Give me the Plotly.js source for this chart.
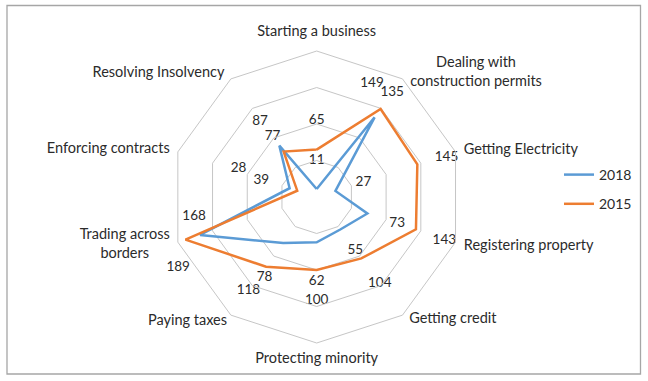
<!DOCTYPE html>
<html>
<head>
<meta charset="utf-8">
<script src="https://cdn.plot.ly/plotly-3.0.1.min.js"></script>
<style>html,body{margin:0;padding:0;background:#fff;}#chart{width:648px;height:381px;}</style>
</head>
<body>
<div id="chart"></div>
<script>
// ---- data ----
const categories = ['Starting a business','Dealing with construction permits','Getting Electricity','Registering property','Getting credit','Protecting minority','Paying taxes','Trading across borders','Enforcing contracts','Resolving Insolvency'];
const categoryLabels = ['Starting a business','Dealing with<br>construction permits','Getting Electricity','Registering property','Getting credit','Protecting minority','Paying taxes','Trading across<br>borders','Enforcing contracts','Resolving Insolvency'];
const seriesNames = ['2018','2015'];
const values2018 = [11,135,27,73,55,62,78,168,39,87];
const values2015 = [65,149,145,143,104,100,118,189,28,77];

// ---- label placement (style: radial / angular offsets) ----
const lblDr2018 = [39,41,40,43,35,54,53,2,40,42];
const lblDt2018 = [0,0,1,0,0,0,-3,9,-2,-1];
const lblDr2015 = [40,24,41,42,43,42,41,24,86,26];
const lblDt2015 = [0,-10,1,1,0,0,0,-9,2,0];
const catDr = [25,77,87,98,51,23,46,71,93,75];
const catDt = [0,16,5,-5,-12,0,10,4,-5,-16];

const colors = ['#5B9BD5','#ED7D31'];
const FONT = 'Lato, "Liberation Sans", sans-serif';
const TXT = '#2B2B2B';
const RMAX = 200;
const n = categories.length;
const step = 360 / n;
const W = 648, H = 381;

// polar domain (pixels): centre and radius
const dom = {x:[0.2634,0.7140], y:[0.0997,0.8661]};
const cxPx = (dom.x[0]+dom.x[1])/2*W, cyPx = (dom.y[0]+dom.y[1])/2*H;
const radPx = Math.min((dom.x[1]-dom.x[0])*W, (dom.y[1]-dom.y[0])*H)/2;
const unit = radPx/RMAX; // px per radial unit

function closed(a){ return a.concat([a[0]]); }

function lineTrace(vals, name, color){
  return {type:'scatterpolar', subplot:'polar', r:closed(vals), theta:closed(categories),
    mode:'lines', name:name, legendgroup:name, line:{color:color, width:2.5}, hoverinfo:'skip'};
}
// text on an overlay cartesian frame whose units equal radial units, origin at polar centre
function polarText(rs, ths, texts, size){
  return {type:'scatter', xaxis:'x', yaxis:'y', mode:'text', showlegend:false, cliponaxis:false,
    x: rs.map((r,i)=>r*Math.sin(ths[i]*Math.PI/180)),
    y: rs.map((r,i)=>r*Math.cos(ths[i]*Math.PI/180)),
    text: texts, textposition:'middle center',
    textfont:{family:FONT, size:size, color:TXT}, hoverinfo:'skip'};
}
function valueLabels(vals, dr, dt){
  return polarText(vals.map((v,i)=>v+dr[i]), vals.map((v,i)=>i*step+dt[i]), vals.map(String), 13.5);
}

const traces = [
  lineTrace(values2018, seriesNames[0], colors[0]),
  lineTrace(values2015, seriesNames[1], colors[1]),
  valueLabels(values2018, lblDr2018, lblDt2018),
  valueLabels(values2015, lblDr2015, lblDt2015),
  polarText(categories.map((c,i)=>RMAX+catDr[i]), categories.map((c,i)=>i*step+catDt[i]), categoryLabels, 14.5)
];

const layout = {
  width:W, height:H,
  margin:{l:0,r:0,t:0,b:0},
  paper_bgcolor:'#fff', plot_bgcolor:'rgba(0,0,0,0)',
  font:{family:FONT, color:TXT, size:13.5},
  showlegend:true,
  legend:{x:559/648, xanchor:'left', y:1-159/381, yanchor:'top', tracegroupgap:8,
          font:{family:FONT, size:14, color:TXT}, bgcolor:'rgba(0,0,0,0)'},
  xaxis:{domain:[0,1], range:[-cxPx/unit, (W-cxPx)/unit], visible:false, fixedrange:true},
  yaxis:{domain:[0,1], range:[-cyPx/unit, (H-cyPx)/unit], visible:false, fixedrange:true},
  polar:{
    domain:dom, bgcolor:'rgba(0,0,0,0)', gridshape:'linear',
    radialaxis:{range:[0,RMAX], tickvals:[50,100,150], showticklabels:false, ticks:'',
                showline:false, gridcolor:'#C6C6C6', gridwidth:1},
    angularaxis:{type:'category', categoryarray:categories, rotation:90, direction:'clockwise',
                 showticklabels:false, ticks:'', showgrid:false, showline:true,
                 linecolor:'#C6C6C6', linewidth:1}
  },
  shapes:[{type:'rect', xref:'paper', yref:'paper', x0:7/648, x1:640.5/648, y0:1-374/381, y1:1-5.5/381,
           line:{color:'#A6A6A6', width:1.3}, fillcolor:'rgba(0,0,0,0)', layer:'below'}]
};

Plotly.newPlot('chart', traces, layout, {displayModeBar:false, staticPlot:true});
</script>
</body>
</html>
